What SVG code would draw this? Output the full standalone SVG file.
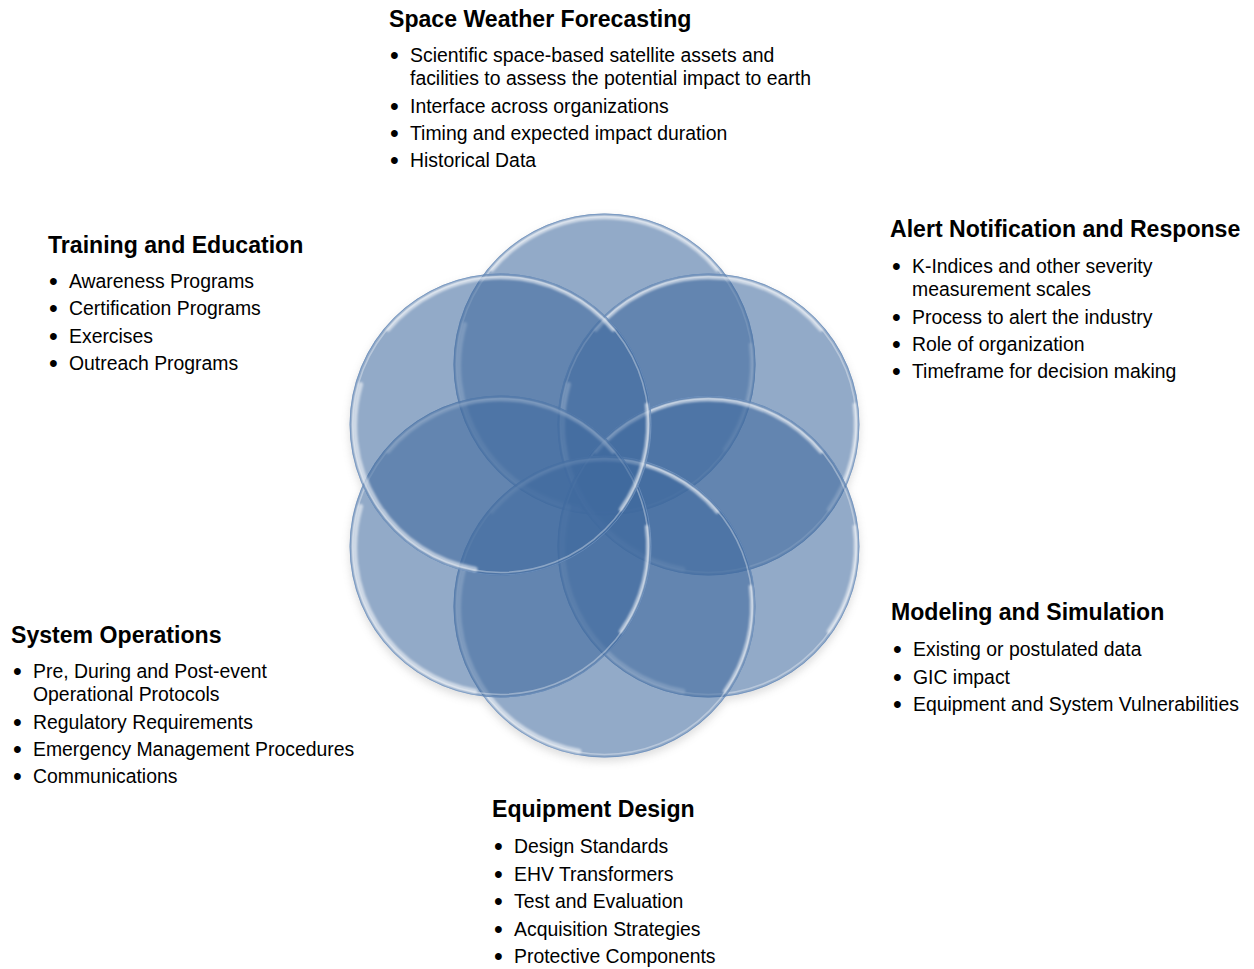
<svg xmlns="http://www.w3.org/2000/svg" width="1254" height="969" viewBox="0 0 1254 969">
<style>
.title{font-family:"Liberation Sans",Arial,sans-serif;font-weight:bold;font-size:23.1px;fill:#000}
.item{font-family:"Liberation Sans",Arial,sans-serif;font-size:19.4px;fill:#000}
.b{font-family:"Liberation Sans",Arial,sans-serif;font-size:25px;fill:#000}
.fill{fill:#3f6a9f;fill-opacity:.57}
.edge{fill:none;stroke:#6d90bd;stroke-width:1;stroke-opacity:.8}
.rim{fill:none;stroke:#ffffff;stroke-width:1.6;stroke-opacity:.35}
.hl{fill:none;stroke:#ffffff;stroke-width:3.5;stroke-linecap:round;stroke-opacity:.6;filter:url(#soft)}
.hl2{fill:none;stroke:#ffffff;stroke-width:5;stroke-linecap:round;stroke-opacity:.55;filter:url(#soft)}
</style>
<defs>
<filter id="soft" x="-20%" y="-20%" width="140%" height="140%"><feGaussianBlur stdDeviation="0.9"/></filter>
<filter id="blur" x="-20%" y="-20%" width="140%" height="140%"><feGaussianBlur stdDeviation="4"/></filter>
<mask id="outside" maskUnits="userSpaceOnUse" x="0" y="0" width="1254" height="969">
<rect width="1254" height="969" fill="#fff"/>
<g fill="#000">
<circle cx="604.5" cy="364.5" r="151"/><circle cx="708.4" cy="424.5" r="151"/><circle cx="708.4" cy="546.5" r="151"/>
<circle cx="604.5" cy="606.5" r="151"/><circle cx="500.6" cy="546.5" r="151"/><circle cx="500.6" cy="424.5" r="151"/>
</g>
</mask>
<g id="disc">
<circle class="fill" r="151"/>
<circle class="edge" r="150.5"/>
<circle class="rim" r="148"/>
<path class="hl" d="M-112.6,-94.5 A147,147 0 0 1 112.6,-94.5"/>
<path class="hl2" d="M-25.5,144.8 A146,146 0 0 1 -140,-40"/>
<path class="hl" d="M146,-20 A147,147 0 0 1 120,85"/>
</g>
</defs>
<rect width="1254" height="969" fill="#fff"/>

<g id="shadow" mask="url(#outside)">
<g opacity=".25" filter="url(#blur)" fill="#777" transform="translate(0,4)">
<circle cx="604.5" cy="364.5" r="151"/><circle cx="708.4" cy="424.5" r="151"/><circle cx="708.4" cy="546.5" r="151"/>
<circle cx="604.5" cy="606.5" r="151"/><circle cx="500.6" cy="546.5" r="151"/><circle cx="500.6" cy="424.5" r="151"/>
</g>
</g>

<g id="circles">
<g id="circle-top"><use href="#disc" x="604.5" y="364.5"/></g>
<g id="circle-upper-right"><use href="#disc" x="708.4" y="424.5"/></g>
<g id="circle-lower-right"><use href="#disc" x="708.4" y="546.5"/></g>
<g id="circle-bottom"><use href="#disc" x="604.5" y="606.5"/></g>
<g id="circle-lower-left"><use href="#disc" x="500.6" y="546.5"/></g>
<g id="circle-upper-left"><use href="#disc" x="500.6" y="424.5"/></g>
</g>

<g id="connectors"/>

<g id="space-weather-forecasting">
<text class="title" x="389" y="27">Space Weather Forecasting</text>
<text class="b" x="390" y="64">•</text><text class="item" x="410" y="62">Scientific space-based satellite assets and</text>
<text class="item" x="410" y="85">facilities to assess the potential impact to earth</text>
<text class="b" x="390" y="115">•</text><text class="item" x="410" y="113">Interface across organizations</text>
<text class="b" x="390" y="142">•</text><text class="item" x="410" y="140">Timing and expected impact duration</text>
<text class="b" x="390" y="169">•</text><text class="item" x="410" y="167">Historical Data</text>
</g>

<g id="training-and-education">
<text class="title" x="48" y="253">Training and Education</text>
<text class="b" x="49" y="290">•</text><text class="item" x="69" y="288">Awareness Programs</text>
<text class="b" x="49" y="317">•</text><text class="item" x="69" y="315">Certification Programs</text>
<text class="b" x="49" y="345">•</text><text class="item" x="69" y="343">Exercises</text>
<text class="b" x="49" y="372">•</text><text class="item" x="69" y="370">Outreach Programs</text>
</g>

<g id="alert-notification-and-response">
<text class="title" x="890" y="237">Alert Notification and Response</text>
<text class="b" x="892" y="275">•</text><text class="item" x="912" y="273">K-Indices and other severity</text>
<text class="item" x="912" y="296">measurement scales</text>
<text class="b" x="892" y="326">•</text><text class="item" x="912" y="324">Process to alert the industry</text>
<text class="b" x="892" y="353">•</text><text class="item" x="912" y="351">Role of organization</text>
<text class="b" x="892" y="380">•</text><text class="item" x="912" y="378">Timeframe for decision making</text>
</g>

<g id="system-operations">
<text class="title" x="11" y="643">System Operations</text>
<text class="b" x="13" y="680">•</text><text class="item" x="33" y="678">Pre, During and Post-event</text>
<text class="item" x="33" y="701">Operational Protocols</text>
<text class="b" x="13" y="731">•</text><text class="item" x="33" y="729">Regulatory Requirements</text>
<text class="b" x="13" y="758">•</text><text class="item" x="33" y="756">Emergency Management Procedures</text>
<text class="b" x="13" y="785">•</text><text class="item" x="33" y="783">Communications</text>
</g>

<g id="modeling-and-simulation">
<text class="title" x="891" y="620">Modeling and Simulation</text>
<text class="b" x="893" y="658">•</text><text class="item" x="913" y="656">Existing or postulated data</text>
<text class="b" x="893" y="686">•</text><text class="item" x="913" y="684">GIC impact</text>
<text class="b" x="893" y="713">•</text><text class="item" x="913" y="711">Equipment and System Vulnerabilities</text>
</g>

<g id="equipment-design">
<text class="title" x="492" y="817">Equipment Design</text>
<text class="b" x="494" y="855">•</text><text class="item" x="514" y="853">Design Standards</text>
<text class="b" x="494" y="883">•</text><text class="item" x="514" y="881">EHV Transformers</text>
<text class="b" x="494" y="910">•</text><text class="item" x="514" y="908">Test and Evaluation</text>
<text class="b" x="494" y="938">•</text><text class="item" x="514" y="936">Acquisition Strategies</text>
<text class="b" x="494" y="965">•</text><text class="item" x="514" y="963">Protective Components</text>
</g>
</svg>
